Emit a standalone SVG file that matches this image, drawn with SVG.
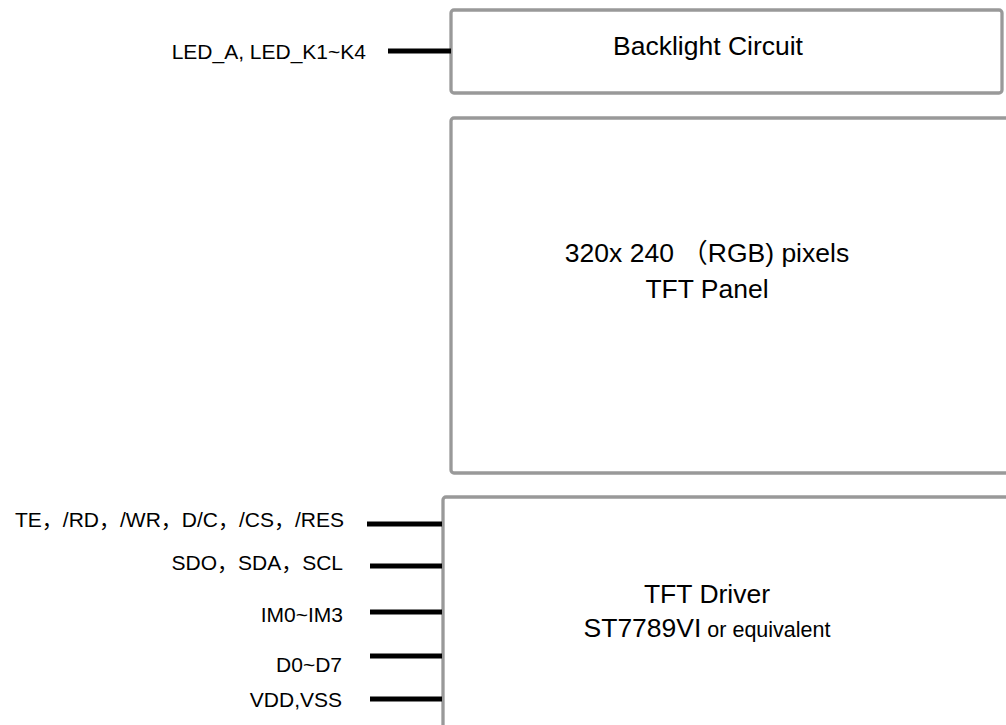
<svg xmlns="http://www.w3.org/2000/svg" width="1006" height="725" viewBox="0 0 1006 725">
<style>
.box{fill:#ffffff;stroke:#999999;stroke-width:3.3}
.big{font-family:"Liberation Sans",Arial,"Noto Sans CJK SC",sans-serif;font-size:26.5px;fill:#000;text-anchor:middle}
.lbl{font-family:"Liberation Sans",Arial,"Noto Sans CJK SC",sans-serif;font-size:21px;fill:#000;text-anchor:end}
.wire{stroke:#000;stroke-width:5;fill:none}
</style>
<rect width="1006" height="725" fill="#ffffff"/>
<g id="backlight">
<rect class="box" x="451" y="10" width="551" height="83" rx="3"/>
<text class="big" x="708" y="55">Backlight Circuit</text>
</g>
<g id="panel">
<rect class="box" x="451" y="118" width="570" height="355" rx="3"/>
<text class="big" x="707" y="262">320x 240 （RGB) pixels</text>
<text class="big" x="707" y="298">TFT Panel</text>
</g>
<g id="driver">
<rect class="box" x="443" y="497" width="580" height="250" rx="3"/>
<text class="big" x="707" y="603">TFT Driver</text>
<text class="big" x="707" y="637">ST7789VI<tspan font-size="21.5px"> or equivalent</tspan></text>
</g>
<g id="labels">
<text class="lbl" x="366" y="59">LED_A, LED_K1~K4</text>
<text class="lbl" x="344" y="527" font-size="21.3px">TE，/RD，/WR，D/C，/CS，/RES</text>
<text class="lbl" x="343" y="570">SDO，SDA，SCL</text>
<text class="lbl" x="343" y="622">IM0~IM3</text>
<text class="lbl" x="342" y="672">D0~D7</text>
<text class="lbl" x="342" y="707">VDD,VSS</text>
</g>
<g id="connectors">
<line class="wire" x1="388" y1="51" x2="451" y2="51"/>
<line class="wire" x1="367" y1="524" x2="442" y2="524"/>
<line class="wire" x1="370" y1="566" x2="442" y2="566"/>
<line class="wire" x1="370" y1="612" x2="442" y2="612"/>
<line class="wire" x1="370" y1="656" x2="442" y2="656"/>
<line class="wire" x1="370" y1="699" x2="442" y2="699"/>
</g>
</svg>
